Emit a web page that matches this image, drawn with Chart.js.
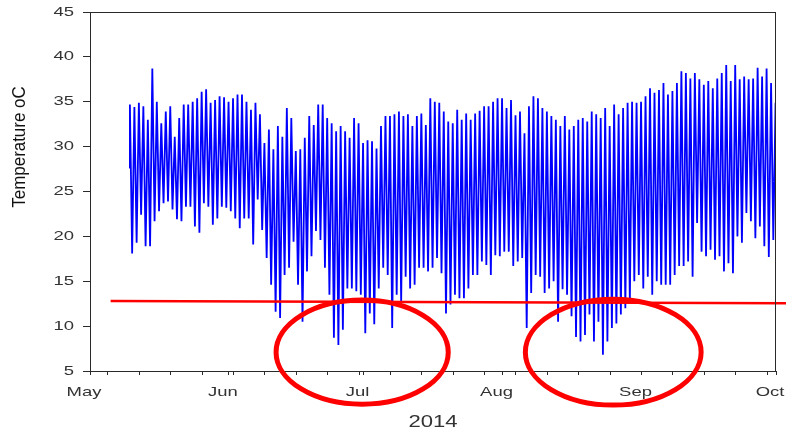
<!DOCTYPE html>
<html>
<head>
<meta charset="utf-8">
<script src="https://cdn.jsdelivr.net/npm/chart.js@4.4.1/dist/chart.umd.min.js"></script>
<style>
  html, body { margin: 0; padding: 0; background: #fff; }
  #wrap { width: 786px; height: 431px; position: relative; }
</style>
</head>
<body>
<div id="wrap"><canvas id="chart"></canvas></div>
<script>
// Day numbers count from 1 May 2014 (day 0).
const monthLabels = ['May', 'Jun', 'Jul', 'Aug', 'Sep', 'Oct'];
const monthStartDays = [0, 31, 61, 92, 123, 153];
const mondayDays = [4, 11, 18, 25, 32, 39, 46, 53, 60, 67, 74, 81, 88, 95, 102, 109, 116, 123, 130, 137, 144, 151];
const yearLabel = '2014';
const yTickValues = [5, 10, 15, 20, 25, 30, 35, 40, 45];
const yTitle = 'Temperature oC';

// Logger temperatures (°C): daily highs and lows from 10 May (day 9) to 1 Oct.
const firstDay = 9;
const openingTemp = 27.6;
const dailyMax = [
  34.7, 34.4, 34.9, 34.5, 33.0, 38.7, 35.0, 32.6, 33.9, 34.5,
  31.1, 33.2, 34.7, 34.7, 35.0, 35.4, 36.1, 36.4, 34.9, 35.2,
  35.6, 35.5, 35.0, 35.4, 35.8, 35.8, 35.0, 34.1, 34.9, 33.6,
  30.4, 31.9, 29.7, 32.3, 31.1, 34.3, 33.2, 29.5, 29.7, 31.0,
  33.4, 32.4, 34.7, 34.7, 33.2, 32.6, 31.7, 32.3, 31.7, 31.0,
  33.2, 32.6, 30.4, 30.7, 30.6, 29.8, 32.3, 33.4, 33.4, 33.6,
  33.9, 33.4, 33.6, 32.3, 33.4, 33.7, 32.4, 35.4, 35.0, 34.9,
  33.9, 32.8, 32.6, 34.1, 33.0, 33.7, 33.0, 33.7, 34.0, 34.5,
  34.5, 35.0, 35.4, 35.4, 34.3, 35.2, 33.5, 33.9, 31.5, 34.5,
  35.6, 35.4, 34.3, 33.9, 33.4, 33.0, 32.3, 33.4, 31.9, 32.3,
  33.0, 33.2, 32.8, 33.9, 33.6, 33.2, 34.3, 32.3, 34.7, 33.6,
  34.3, 34.9, 35.0, 34.9, 35.0, 35.6, 36.5, 36.0, 36.3, 37.1,
  35.8, 36.2, 37.1, 38.4, 38.2, 37.6, 38.2, 37.5, 36.9, 37.3,
  36.5, 37.6, 38.2, 39.1, 37.3, 39.1, 37.5, 37.8, 37.5, 37.6,
  38.8, 37.8, 38.7, 37.1, 34.9
];
const dailyMin = [
  18.1, 19.3, 22.4, 18.9, 18.9, 21.7, 22.8, 23.7, 23.9, 23.0,
  21.9, 21.7, 23.3, 23.3, 21.1, 20.4, 23.7, 23.3, 21.3, 22.0,
  23.3, 23.2, 22.8, 22.0, 20.9, 22.0, 22.0, 19.1, 24.1, 20.7,
  17.6, 14.6, 11.6, 10.9, 15.7, 16.5, 19.4, 14.6, 10.5, 16.1,
  17.8, 20.6, 19.6, 16.5, 13.5, 8.7, 7.9, 9.6, 14.2, 14.2,
  13.9, 13.5, 9.2, 11.4, 10.2, 14.2, 16.5, 15.7, 9.8, 13.5,
  12.7, 15.5, 14.2, 14.6, 16.5, 16.5, 16.1, 16.5, 17.6, 15.9,
  11.4, 12.4, 13.5, 13.1, 13.1, 14.2, 15.7, 15.7, 17.2, 16.8,
  15.7, 17.9, 17.8, 18.3, 18.3, 16.7, 17.2, 17.6, 9.8, 13.7,
  15.7, 15.5, 13.7, 14.2, 15.0, 10.5, 14.1, 13.5, 11.1, 8.8,
  8.3, 9.0, 11.3, 8.3, 10.5, 6.8, 8.3, 9.8, 10.3, 11.3,
  12.0, 12.7, 15.0, 15.7, 14.2, 15.5, 13.5, 15.0, 14.6, 14.6,
  14.6, 15.7, 16.7, 16.7, 17.2, 15.5, 21.5, 18.3, 17.8, 18.5,
  17.4, 17.8, 16.1, 17.0, 15.9, 20.0, 19.3, 22.6, 21.7, 19.8,
  21.1, 18.9, 17.7, 19.6, 25.8
];

// Reference threshold line (day, °C at each end).
const thresholdDays = [4.6, 155.3];
const thresholdTemps = [12.8, 12.55];

// Circled cold spells: centre (day, °C) and half-extents (days, °C).
const spellCentreDays = [60.7, 116.7];
const spellCentreTemps = [7.1, 7.1];
const spellHalfDays = [19.2, 19.6];
const spellHalfTemps = [5.8, 5.9];

// Reading times within each day.
const HIGH_OFFSET = -0.1;
const LOW_OFFSET = 0.4;
const X_MIN = monthStartDays[0];
const X_MAX = monthStartDays[monthStartDays.length - 1];

const tempPoints = [{ x: firstDay + HIGH_OFFSET - 0.05, y: openingTemp }];
dailyMax.forEach((hi, i) => {
  const d = firstDay + i;
  tempPoints.push({ x: d + HIGH_OFFSET, y: hi });
  tempPoints.push({ x: Math.min(d + LOW_OFFSET, X_MAX), y: dailyMin[i] });
});

const thresholdPoints = thresholdDays.map((d, i) => ({ x: d, y: thresholdTemps[i] }));
const xTickDays = [...new Set([...monthStartDays, ...mondayDays])].sort((a, b) => a - b);

const AXIS_COLOR = '#2a2a2a';
const LABEL_COLOR = '#333333';
const FONT = '"Liberation Sans", Arial, sans-serif';

function drawStretched(ctx, text, x, y, size, sx, align, baseline, color) {
  ctx.save();
  ctx.translate(x, y);
  ctx.scale(sx, 1);
  ctx.font = size + 'px ' + FONT;
  ctx.textAlign = align;
  ctx.textBaseline = baseline;
  ctx.fillStyle = color;
  ctx.fillText(text, 0, 0);
  ctx.restore();
}

const decorations = {
  id: 'decorations',
  afterDraw(chart) {
    const { ctx, chartArea: a, scales: { x, y } } = chart;

    // box around the plot
    ctx.save();
    ctx.strokeStyle = AXIS_COLOR;
    ctx.lineWidth = 1;
    ctx.strokeRect(Math.round(a.left) + 0.5, Math.round(a.top) + 0.5,
                   Math.round(a.right - a.left) - 1, Math.round(a.bottom - a.top));
    ctx.restore();

    // y tick labels
    yTickValues.forEach(v => {
      drawStretched(ctx, String(v), a.left - 16, y.getPixelForValue(v), 13, 1.42, 'right', 'middle', LABEL_COLOR);
    });

    // month labels
    monthLabels.forEach((m, i) => {
      drawStretched(ctx, m, x.getPixelForValue(monthStartDays[i]) - 6, a.bottom + 25, 13, 1.42, 'center', 'alphabetic', LABEL_COLOR);
    });

    // year under the axis
    drawStretched(ctx, yearLabel, (a.left + a.right) / 2, a.bottom + 51, 17, 1.3, 'center', 'middle', LABEL_COLOR);

    // y axis title
    ctx.save();
    ctx.translate(25, 147);
    ctx.rotate(-Math.PI / 2);
    ctx.scale(0.94, 1);
    ctx.font = '18px ' + FONT;
    ctx.textAlign = 'center';
    ctx.textBaseline = 'alphabetic';
    ctx.fillStyle = '#111';
    ctx.fillText(yTitle, 0, 0);
    ctx.restore();

    // circled cold spells
    ctx.save();
    ctx.strokeStyle = '#ff0000';
    ctx.lineWidth = 5;
    spellCentreDays.forEach((d, i) => {
      const cx = x.getPixelForValue(d);
      const cy = y.getPixelForValue(spellCentreTemps[i]);
      const rx = x.getPixelForValue(d + spellHalfDays[i]) - cx;
      const ry = cy - y.getPixelForValue(spellCentreTemps[i] + spellHalfTemps[i]);
      ctx.beginPath();
      ctx.ellipse(cx, cy, rx, ry, 0, 0, Math.PI * 2);
      ctx.stroke();
    });
    ctx.restore();
  }
};

new Chart(document.getElementById('chart'), {
  type: 'line',
  data: {
    datasets: [
      {
        label: 'threshold',
        data: thresholdPoints,
        borderColor: '#ff0000',
        borderWidth: 2.5,
        pointRadius: 0,
        clip: false
      },
      {
        label: 'temperature',
        data: tempPoints,
        borderColor: '#0000ff',
        borderWidth: 1.8,
        pointRadius: 0,
        tension: 0
      }
    ]
  },
  options: {
    responsive: true,
    maintainAspectRatio: false,
    devicePixelRatio: 1,
    animation: false,
    events: [],
    layout: { padding: { left: 0, right: 10, top: 12, bottom: 0 } },
    plugins: { legend: { display: false }, tooltip: { enabled: false }, title: { display: false } },
    scales: {
      x: {
        type: 'linear',
        min: X_MIN,
        max: X_MAX,
        afterBuildTicks: s => { s.ticks = xTickDays.map(v => ({ value: v })); },
        afterFit: s => { s.height = 60; s.paddingLeft = 0; s.paddingRight = 0; },
        ticks: { display: false },
        grid: { drawOnChartArea: false, drawTicks: true, tickLength: 4, color: AXIS_COLOR, lineWidth: 1 },
        border: { display: true, color: AXIS_COLOR, width: 1 }
      },
      y: {
        type: 'linear',
        min: 5,
        max: 45,
        afterBuildTicks: s => { s.ticks = yTickValues.map(v => ({ value: v })); },
        afterFit: s => { s.width = 90; s.paddingTop = 0; s.paddingBottom = 0; },
        ticks: { display: false },
        grid: { drawOnChartArea: false, drawTicks: true, tickLength: 7, color: AXIS_COLOR, lineWidth: 1 },
        border: { display: true, color: AXIS_COLOR, width: 1 }
      }
    }
  },
  plugins: [decorations]
});
</script>
</body>
</html>
